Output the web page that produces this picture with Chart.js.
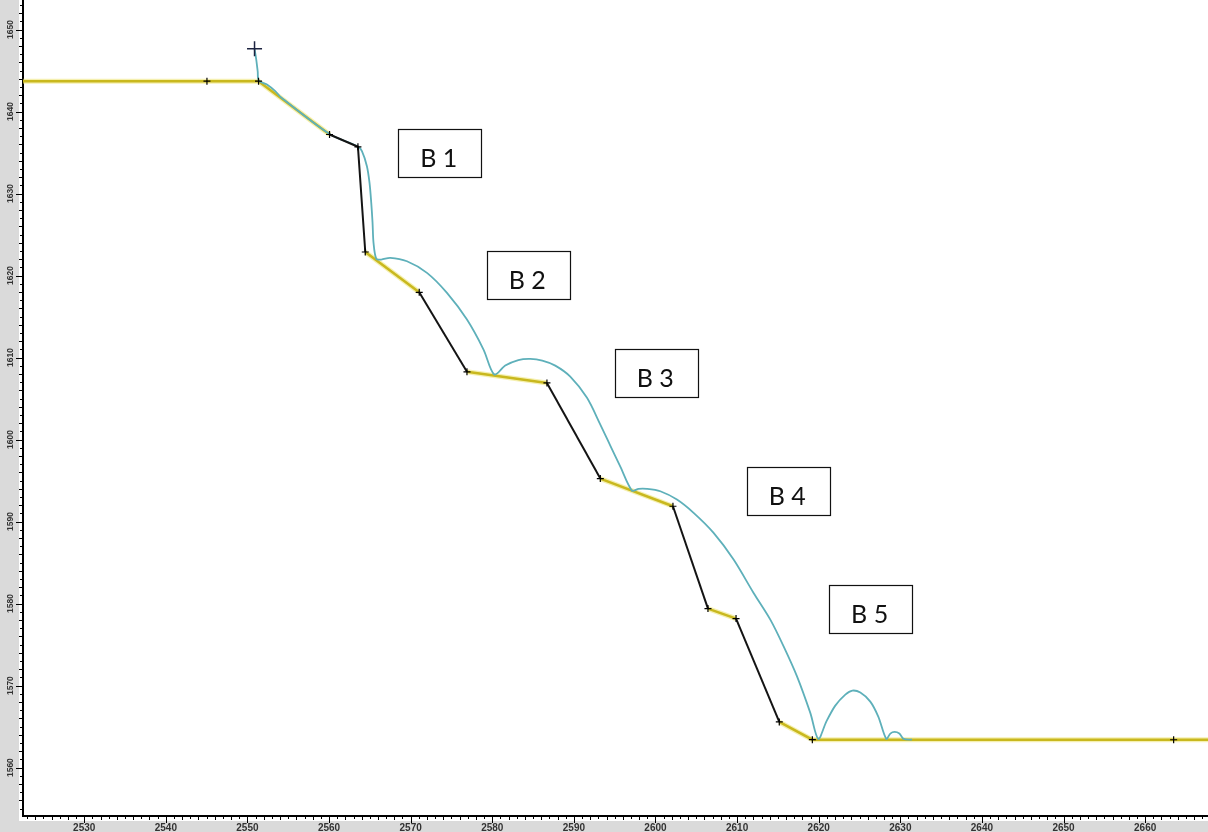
<!DOCTYPE html>
<html>
<head>
<meta charset="utf-8">
<title>Profil</title>
<script src="https://cdn.jsdelivr.net/npm/chart.js@4.4.1/dist/chart.umd.min.js"></script>
<style>
  html, body { margin: 0; padding: 0; background: #fff; }
  #wrap { width: 1208px; height: 832px; }
</style>
</head>
<body>
<div id="wrap"><canvas id="profileChart" width="1208" height="832"></canvas></div>
<script>
// slope profile: station (m) and elevation (m)
const profileX = [2522.5, 2545.04, 2551.36, 2560.06, 2563.54, 2564.44, 2571.05, 2576.9, 2586.7, 2593.24, 2602.14, 2606.43, 2609.87, 2615.17, 2619.22, 2663.49, 2667.7];
const profileY = [1643.7, 1643.7, 1643.7, 1637.2, 1635.7, 1622.87, 1617.96, 1608.26, 1606.91, 1595.24, 1591.87, 1579.39, 1578.17, 1565.57, 1563.41, 1563.4, 1563.4];
// one entry per segment: "y" = bench / soil, "b" = rock face
const segmentKinds = ["y", "y", "y", "b", "b", "y", "b", "y", "b", "y", "b", "y", "b", "y", "y", "y"];

// release point of the block
const startX = [2550.87];
const startY = [1647.65];

// block trajectory with bounces
const trajX = [2550.87, 2551.08, 2551.26, 2551.38, 2552.39, 2553.41, 2554.14, 2560.06, 2563.54, 2564.03, 2564.64, 2564.96, 2565.17, 2565.33, 2565.45, 2565.78, 2566.4, 2567.5, 2569.55, 2572.0, 2574.45, 2576.9, 2578.93, 2580.25, 2581.59, 2583.19, 2584.66, 2586.13, 2587.72, 2589.56, 2591.61, 2593.24, 2594.46, 2595.69, 2597.12, 2597.93, 2598.96, 2600.59, 2602.63, 2604.67, 2607.12, 2609.57, 2612.02, 2614.07, 2615.7, 2617.34, 2618.97, 2619.95, 2620.93, 2622.03, 2623.26, 2624.12, 2625.1, 2626.32, 2627.3, 2628.28, 2628.77, 2629.3, 2629.88, 2630.4, 2631.43];
const trajY = [1647.65, 1646.34, 1644.88, 1643.78, 1643.29, 1642.48, 1641.71, 1637.26, 1635.73, 1635.16, 1633.33, 1631.3, 1628.9, 1626.46, 1623.99, 1622.07, 1621.95, 1622.16, 1621.74, 1620.33, 1617.89, 1614.63, 1610.98, 1607.93, 1609.02, 1609.7, 1609.84, 1609.63, 1609.02, 1607.68, 1605.09, 1601.83, 1599.27, 1596.71, 1593.78, 1593.99, 1593.99, 1593.7, 1592.68, 1591.06, 1588.62, 1585.37, 1581.3, 1578.05, 1574.79, 1571.13, 1566.67, 1563.5, 1565.61, 1567.56, 1568.9, 1569.39, 1569.15, 1568.05, 1566.22, 1563.5, 1564.15, 1564.35, 1564.15, 1563.5, 1563.41];

const xTickLabels = [2530, 2540, 2550, 2560, 2570, 2580, 2590, 2600, 2610, 2620, 2630, 2640, 2650, 2660];
const yTickLabels = [1560, 1570, 1580, 1590, 1600, 1610, 1620, 1630, 1640, 1650];

// bench labels and where their boxes sit (data units)
const boxLabels = ["B 1", "B 2", "B 3", "B 4", "B 5"];
const boxAnchorX = [2573.57, 2584.41, 2600.1, 2616.27, 2626.36];
const boxAnchorY = [1635.0, 1620.06, 1608.17, 1593.78, 1579.33];

const toPoints = (xs, ys) => xs.map((x, i) => ({ x, y: ys[i] }));
const profilePoints = toPoints(profileX, profileY);

const YELLOW = "#c9b81e";
const HALO = "rgba(236, 228, 112, 0.55)";
const BLACK = "#141414";
const CLEAR = "rgba(0,0,0,0)";

// grey label strips, minor ticks, rotated y labels
const axisDecor = {
  id: "axisDecor",
  beforeDraw(chart) {
    const { ctx, chartArea } = chart;
    ctx.save();
    ctx.fillStyle = "#dadada";
    ctx.fillRect(0, 0, 19, chart.height);
    ctx.fillRect(0, chartArea.bottom + 5, chart.width, chart.height - chartArea.bottom - 5);
    ctx.restore();
  },
  afterDraw(chart) {
    const { ctx, chartArea } = chart;
    const x = chart.scales.x;
    const y = chart.scales.y;
    ctx.save();
    ctx.strokeStyle = "#000";
    ctx.lineWidth = 1;
    ctx.beginPath();
    for (let v = Math.ceil(x.min); v <= x.max; v++) {
      const px = Math.round(x.getPixelForValue(v)) + 0.5;
      const len = v % 10 === 0 ? 7 : v % 2 === 0 ? 4 : 3;
      ctx.moveTo(px, chartArea.bottom);
      ctx.lineTo(px, chartArea.bottom + len);
    }
    for (let v = Math.ceil(y.min); v <= y.max; v++) {
      const py = Math.round(y.getPixelForValue(v)) + 0.5;
      const len = v % 10 === 0 ? 7 : v % 2 === 0 ? 4 : 3;
      ctx.moveTo(chartArea.left, py);
      ctx.lineTo(chartArea.left - len, py);
    }
    ctx.stroke();

    ctx.fillStyle = "#333";
    ctx.font = "bold 8.5px 'Liberation Sans', Arial, sans-serif";
    ctx.textAlign = "center";
    ctx.textBaseline = "middle";
    yTickLabels.forEach((v) => {
      const py = y.getPixelForValue(v);
      ctx.save();
      ctx.translate(11, py);
      ctx.rotate(-Math.PI / 2);
      ctx.fillText(String(v), 0, 0);
      ctx.restore();
    });
    ctx.restore();
  },
};

// framed bench labels
const benchBoxes = {
  id: "benchBoxes",
  afterDatasetsDraw(chart) {
    const { ctx } = chart;
    const x = chart.scales.x;
    const y = chart.scales.y;
    const w = 83;
    const h = 48;
    ctx.save();
    boxLabels.forEach((label, i) => {
      const cx = x.getPixelForValue(boxAnchorX[i]);
      const cy = y.getPixelForValue(boxAnchorY[i]);
      const left = Math.round(cx - w / 2) + 0.5;
      const top = Math.round(cy - h / 2) + 0.5;
      ctx.fillStyle = "#fff";
      ctx.fillRect(left, top, w, h);
      ctx.strokeStyle = "#111";
      ctx.lineWidth = 1.2;
      ctx.strokeRect(left, top, w, h);
      ctx.fillStyle = "#111";
      ctx.font = "25px Lato, 'Open Sans', sans-serif";
      ctx.textAlign = "center";
      ctx.textBaseline = "alphabetic";
      ctx.fillText(label, cx - 1, cy + 14);
    });
    ctx.restore();
  },
};

new Chart(document.getElementById("profileChart"), {
  type: "line",
  data: {
    datasets: [
      {
        label: "start",
        data: toPoints(startX, startY),
        showLine: false,
        pointStyle: "cross",
        pointRadius: 7.5,
        pointBorderColor: "#1c2340",
        pointBorderWidth: 1.5,
        order: 0,
      },
      {
        label: "rock face",
        data: profilePoints,
        borderWidth: 2,
        borderColor: BLACK,
        segment: {
          borderColor: (ctx) => (segmentKinds[ctx.p0DataIndex] === "b" ? BLACK : CLEAR),
        },
        pointStyle: "cross",
        pointRadius: (ctx) => (ctx.dataIndex === 0 || ctx.dataIndex === profileX.length - 1 ? 0 : 3.5),
        pointBorderColor: "#000",
        pointBorderWidth: 1.2,
        tension: 0,
        order: 1,
      },
      {
        label: "trajectory",
        data: toPoints(trajX, trajY),
        borderColor: "#5eb0ba",
        borderWidth: 1.8,
        pointRadius: 0,
        tension: 0.3,
        order: 2,
      },
      {
        label: "benches",
        data: profilePoints,
        borderWidth: 2.5,
        borderColor: YELLOW,
        segment: {
          borderColor: (ctx) => (segmentKinds[ctx.p0DataIndex] === "y" ? YELLOW : CLEAR),
        },
        pointRadius: 0,
        tension: 0,
        order: 3,
      },
      {
        label: "benches halo",
        data: profilePoints,
        borderWidth: 5,
        borderColor: HALO,
        segment: {
          borderColor: (ctx) => (segmentKinds[ctx.p0DataIndex] === "y" ? HALO : CLEAR),
        },
        pointRadius: 0,
        tension: 0,
        order: 4,
      },
    ],
  },
  options: {
    responsive: false,
    animation: false,
    devicePixelRatio: 1,
    layout: { padding: 0, autoPadding: false },
    plugins: {
      legend: { display: false },
      tooltip: { enabled: false },
    },
    scales: {
      x: {
        type: "linear",
        min: 2522.5,
        max: 2667.7,
        border: { display: true, color: "#000", width: 2 },
        grid: { display: false, drawTicks: false },
        ticks: {
          stepSize: 10,
          includeBounds: false,
          autoSkip: false,
          maxRotation: 0,
          padding: 6,
          color: "#333",
          font: { family: "'Liberation Sans', Arial, sans-serif", size: 10, weight: "bold" },
          callback: (v) => (xTickLabels.includes(v) ? String(v) : ""),
        },
        afterFit: (scale) => {
          scale.height = 16;
        },
      },
      y: {
        type: "linear",
        min: 1554.1,
        max: 1653.6,
        border: { display: true, color: "#000", width: 2 },
        grid: { display: false, drawTicks: false },
        ticks: { display: false, stepSize: 10 },
        afterFit: (scale) => {
          scale.width = 23;
        },
      },
    },
  },
  plugins: [axisDecor, benchBoxes],
});
</script>
</body>
</html>
